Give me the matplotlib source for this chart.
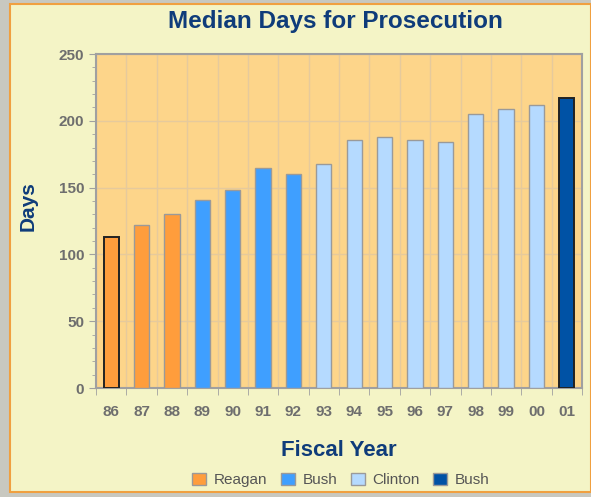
import matplotlib.pyplot as plt
from matplotlib.patches import Patch, Rectangle
from matplotlib.ticker import MultipleLocator

plt.rcParams['font.family'] = ['Liberation Sans', 'DejaVu Sans']

# Daten
years = ['86', '87', '88', '89', '90', '91', '92', '93', '94', '95', '96', '97', '98', '99', '00', '01']
days = [113, 122, 130, 141, 148, 165, 160, 168, 186, 188, 186, 184, 205, 209, 212, 217]
admin = ['Reagan'] * 3 + ['Bush'] * 4 + ['Clinton'] * 8 + ['Bush2']
admin_labels = ['Reagan', 'Bush', 'Clinton', 'Bush']

colors = {'Reagan': '#FF9D3C', 'Bush': '#3F9FFF', 'Clinton': '#B5DAFF', 'Bush2': '#0052A5'}
navy = '#0F3C7A'

fig = plt.figure(figsize=(5.91, 4.97), dpi=100, facecolor='#C8C8C0')
# Hintergrundrahmen
fig.patches.append(Rectangle((10 / 591, 5 / 497), 581 / 591, 488 / 497, transform=fig.transFigure,
                             facecolor='#F4F4C6', edgecolor='#F0A040', linewidth=1.5, zorder=-10))

ax = fig.add_axes([96 / 591, 109 / 497, 486 / 591, 334 / 497])
ax.set_facecolor('#FDD58A')

x = range(len(years))
for i in x:
    a = admin[i]
    edge = '#222222' if i in (0, len(years) - 1) else '#9A9A9A'
    lw = 1.4 if i in (0, len(years) - 1) else 1.0
    ax.bar(i, days[i], width=0.5, color=colors[a], edgecolor=edge, linewidth=lw, zorder=3)

ax.set_xlim(-0.5, len(years) - 0.5)
ax.set_ylim(0, 250)
ax.set_xticks(list(x))
ax.set_xticklabels(years)
ax.set_xticks([i - 0.5 for i in range(len(years) + 1)], minor=True)
ax.yaxis.set_major_locator(MultipleLocator(50))
ax.yaxis.set_minor_locator(MultipleLocator(10))

ax.grid(True, which='major', axis='y', color='#E6CA9C', linewidth=1, zorder=0)
ax.grid(True, which='minor', axis='x', color='#E6CA9C', linewidth=1, zorder=0)
ax.tick_params(axis='x', which='major', length=0, labelsize=11, labelcolor='#6E6E6E', pad=12)
ax.tick_params(axis='x', which='minor', length=5, color='#A0A0A0')
ax.tick_params(axis='y', which='major', length=5, color='#A0A0A0', labelsize=11, labelcolor='#6E6E6E')
ax.tick_params(axis='y', which='minor', length=3, color='#A0A0A0')
for lab in ax.get_xticklabels() + ax.get_yticklabels():
    lab.set_fontweight('bold')
for s in ax.spines.values():
    s.set_color('#A0A0A0')
    s.set_linewidth(1.5)

ax.set_ylabel('Days', fontsize=15, fontweight='bold', color=navy)
ax.yaxis.set_label_coords(-0.12, 0.545)
ax.set_xlabel('Fiscal Year', fontsize=16, fontweight='bold', color=navy)
ax.xaxis.set_label_coords(0.5, -0.155)
fig.text(0.567, 0.956, 'Median Days for Prosecution', ha='center', va='center',
         fontsize=17.5, fontweight='bold', color=navy)

handles = [Patch(facecolor=colors[k], edgecolor='#9A9A9A') for k in ['Reagan', 'Bush', 'Clinton', 'Bush2']]
fig.legend(handles, admin_labels, loc='center', bbox_to_anchor=(0.577, 0.034), ncol=4, frameon=False,
           fontsize=11, labelcolor='#555555', handlelength=0.9, handleheight=0.9,
           handletextpad=0.5, columnspacing=0.9)

plt.savefig('out.png', dpi=100, facecolor=fig.get_facecolor())
plt.close()
